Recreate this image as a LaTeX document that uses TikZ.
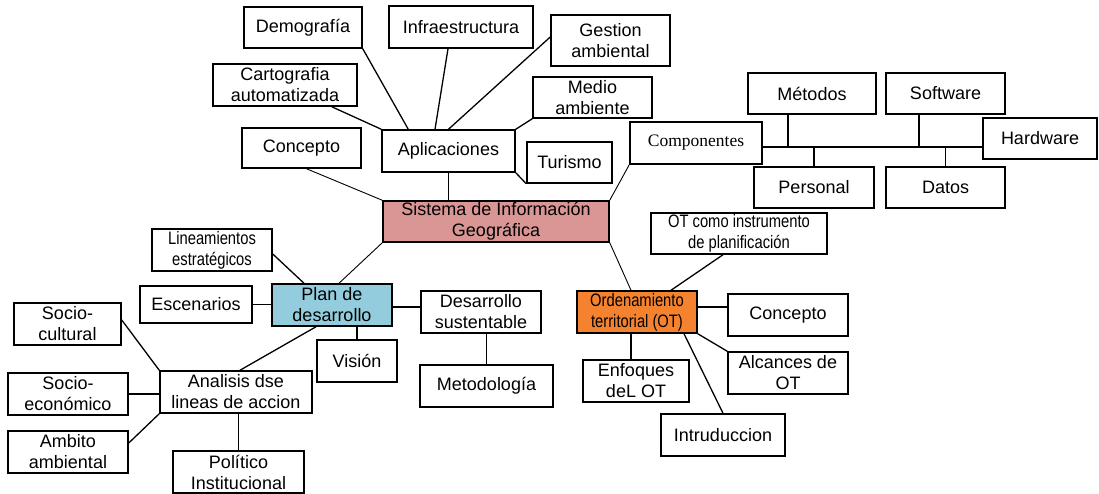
\documentclass[tikz,border=0pt]{standalone}
\usepackage{fontspec}
\setmainfont{Liberation Sans}
\newfontfamily\narrowf[FakeStretch=0.82]{Liberation Sans}
\newfontfamily\tmsf{Liberation Serif}
\definecolor{sigfill}{HTML}{D99694}
\definecolor{planfill}{HTML}{93CDDD}
\definecolor{otfill}{HTML}{F4822F}
\tikzset{
  bx/.style={draw, line width=1.5pt, align=center, inner sep=0pt, fill=white,
    font=\fontsize{18}{21}\selectfont},
  sz/.style 2 args={minimum width=#1pt, minimum height=#2pt},
  cn/.style={line width=1.3pt},
  cnthin/.style={line width=0.9pt},
  nar/.style={font=\narrowf\fontsize{18}{21}\selectfont},
}
\begin{document}
\begin{tikzpicture}[x=1pt,y=-1pt]
\useasboundingbox (0,0) rectangle (1099,494);
% top cluster
\node[bx,sz={118}{41}] (dem) at (303,27.5) {Demografía};
\node[bx,sz={144}{42}] (inf) at (461,27) {Infraestructura};
\node[bx,sz={119}{51}] (ges) at (610.5,40.5) {Gestion\\ambiental};
\node[bx,sz={144}{42}] (car) at (285,85) {Cartografia\\automatizada};
\node[bx,sz={119}{41}] (med) at (592.5,97.5) {Medio\\ambiente};
\node[bx,sz={133}{42}] (apl) at (448.5,151) {Aplicaciones};
\node[bx,sz={119}{40}] (con1) at (301.5,148) {Concepto};
\node[bx,sz={85}{41}] (tur) at (569.5,162.5) {Turismo};
% componentes
\node[bx,sz={132}{42},font=\tmsf\fontsize{17.5}{21}\selectfont] (comp) at (696,143) {Componentes};
\node[bx,sz={128}{41}] (met) at (812,93.5) {Métodos};
\node[bx,sz={119}{41}] (sof) at (945.5,93.5) {Software};
\node[bx,sz={114}{41}] (har) at (1040,138.5) {Hardware};
\node[bx,sz={120}{41}] (per) at (814,187.5) {Personal};
\node[bx,sz={119}{41}] (dat) at (945.5,187.5) {Datos};
% center
\node[bx,sz={226}{41},fill=sigfill] (sig) at (496,221.5) {Sistema de Información\\Geográfica};
% plan de desarrollo
\node[bx,sz={120}{42},nar] (lin) at (212,250) {Lineamientos\\estratégicos};
\node[bx,sz={112}{37}] (esc) at (196,304.5) {Escenarios};
\node[bx,sz={120}{42},fill=planfill] (plan) at (332,305) {Plan de\\desarrollo};
\node[bx,sz={120}{42}] (des) at (481,312) {Desarrollo\\sustentable};
\node[bx,sz={80}{42}] (vis) at (357,361) {Visión};
\node[bx,sz={133}{42}] (metod) at (486.5,386) {Metodología};
\node[bx,sz={107}{42}] (sc) at (67.5,324) {Socio-\\cultural};
\node[bx,sz={120}{42}] (se) at (68,394) {Socio-\\económico};
\node[bx,sz={120}{42}] (amb) at (68,452) {Ambito\\ambiental};
\node[bx,sz={152}{42}] (ana) at (236,392) {Analisis dse\\lineas de accion};
\node[bx,sz={131}{42}] (pol) at (238.5,472) {Político\\Institucional};
% ordenamiento
\node[bx,sz={176}{41},nar] (oti) at (739,233.5) {OT como instrumento\\de planificación};
\node[bx,sz={120}{42},fill=otfill,nar] (ot) at (637,312) {Ordenamiento\\territorial (OT)};
\node[bx,sz={120}{42}] (con2) at (788,315) {Concepto};
\node[bx,sz={120}{42}] (alc) at (788,373) {Alcances de\\OT};
\node[bx,sz={106}{42}] (enf) at (636,381) {Enfoques\\deL OT};
\node[bx,sz={124}{42}] (int) at (723,435) {Intruduccion};

% connectors: aplicaciones
\draw[cn] ([xshift=-26]car.south east) -- (apl.north west);
\draw[cn] (dem.south east) -- ([xshift=27]apl.north west);
\draw[cn] ([xshift=-13]inf.south) -- ([xshift=-13.5]apl.north);
\draw[cn] ([yshift=3.5]ges.west) -- (apl.north);
\draw[cn] (med.south west) -- (apl.north east);
\draw[cn] (tur.south west) -- (apl.south east);
\draw[cnthin] ([xshift=5]con1.south) -- (sig.north west);
\draw[cnthin] (apl.south) -- (apl.south |- sig.north);
\draw[cnthin] (comp.south west) -- (sig.north east);
% componentes bus
\coordinate (b0) at ([yshift=-4]comp.east);
\draw[cn] (b0) -- (b0 -| har.west);
\coordinate (mb) at ([xshift=-24]met.south);
\draw[cn] (mb) -- (mb |- b0);
\draw[cn] (per.north) -- (per.north |- b0);
\coordinate (sb) at ([xshift=-26.5]sof.south);
\draw[cn] (sb) -- (sb |- b0);
\draw[cn] (dat.north) -- (dat.north |- b0);
% sig to branches
\draw[cnthin] (sig.south east) -- ([xshift=-6]ot.north);
\draw[cnthin] ([xshift=7]plan.north) -- (sig.south west);
% plan
\draw[cn] ([yshift=-4]lin.east) -- ([xshift=-28]plan.north);
\draw[cn] (esc.east) -- (esc.east -| plan.west);
\coordinate (pe) at ([yshift=-2]plan.east);
\draw[cn] (pe) -- (pe -| des.west);
\draw[cn] (vis.north |- plan.south) -- (vis.north);
\draw[cn] ([xshift=-16]plan.south) -- ([xshift=4]ana.north);
\draw[cn] (metod.north |- des.south) -- (metod.north);
\draw[cn] ([yshift=4]sc.east) -- (ana.north west);
\draw[cn] (se.east) -- (se.east -| ana.west);
\draw[cn] ([yshift=9]amb.east) -- (ana.south west);
\draw[cn] (pol.north |- ana.south) -- (pol.north);
% ordenamiento
\draw[cn] ([xshift=-16]oti.south) -- ([xshift=34]ot.north);
\coordinate (oe2) at ([yshift=5]ot.east);
\draw[cn] (oe2) -- (oe2 -| con2.west);
\draw[cn] (ot.south east) -- (alc.north west);
\coordinate (oe) at ([xshift=-6]ot.south);
\draw[cn] (oe) -- (oe |- enf.north);
\draw[cn] ([xshift=47]ot.south) -- (int.north);
\end{tikzpicture}
\end{document}
